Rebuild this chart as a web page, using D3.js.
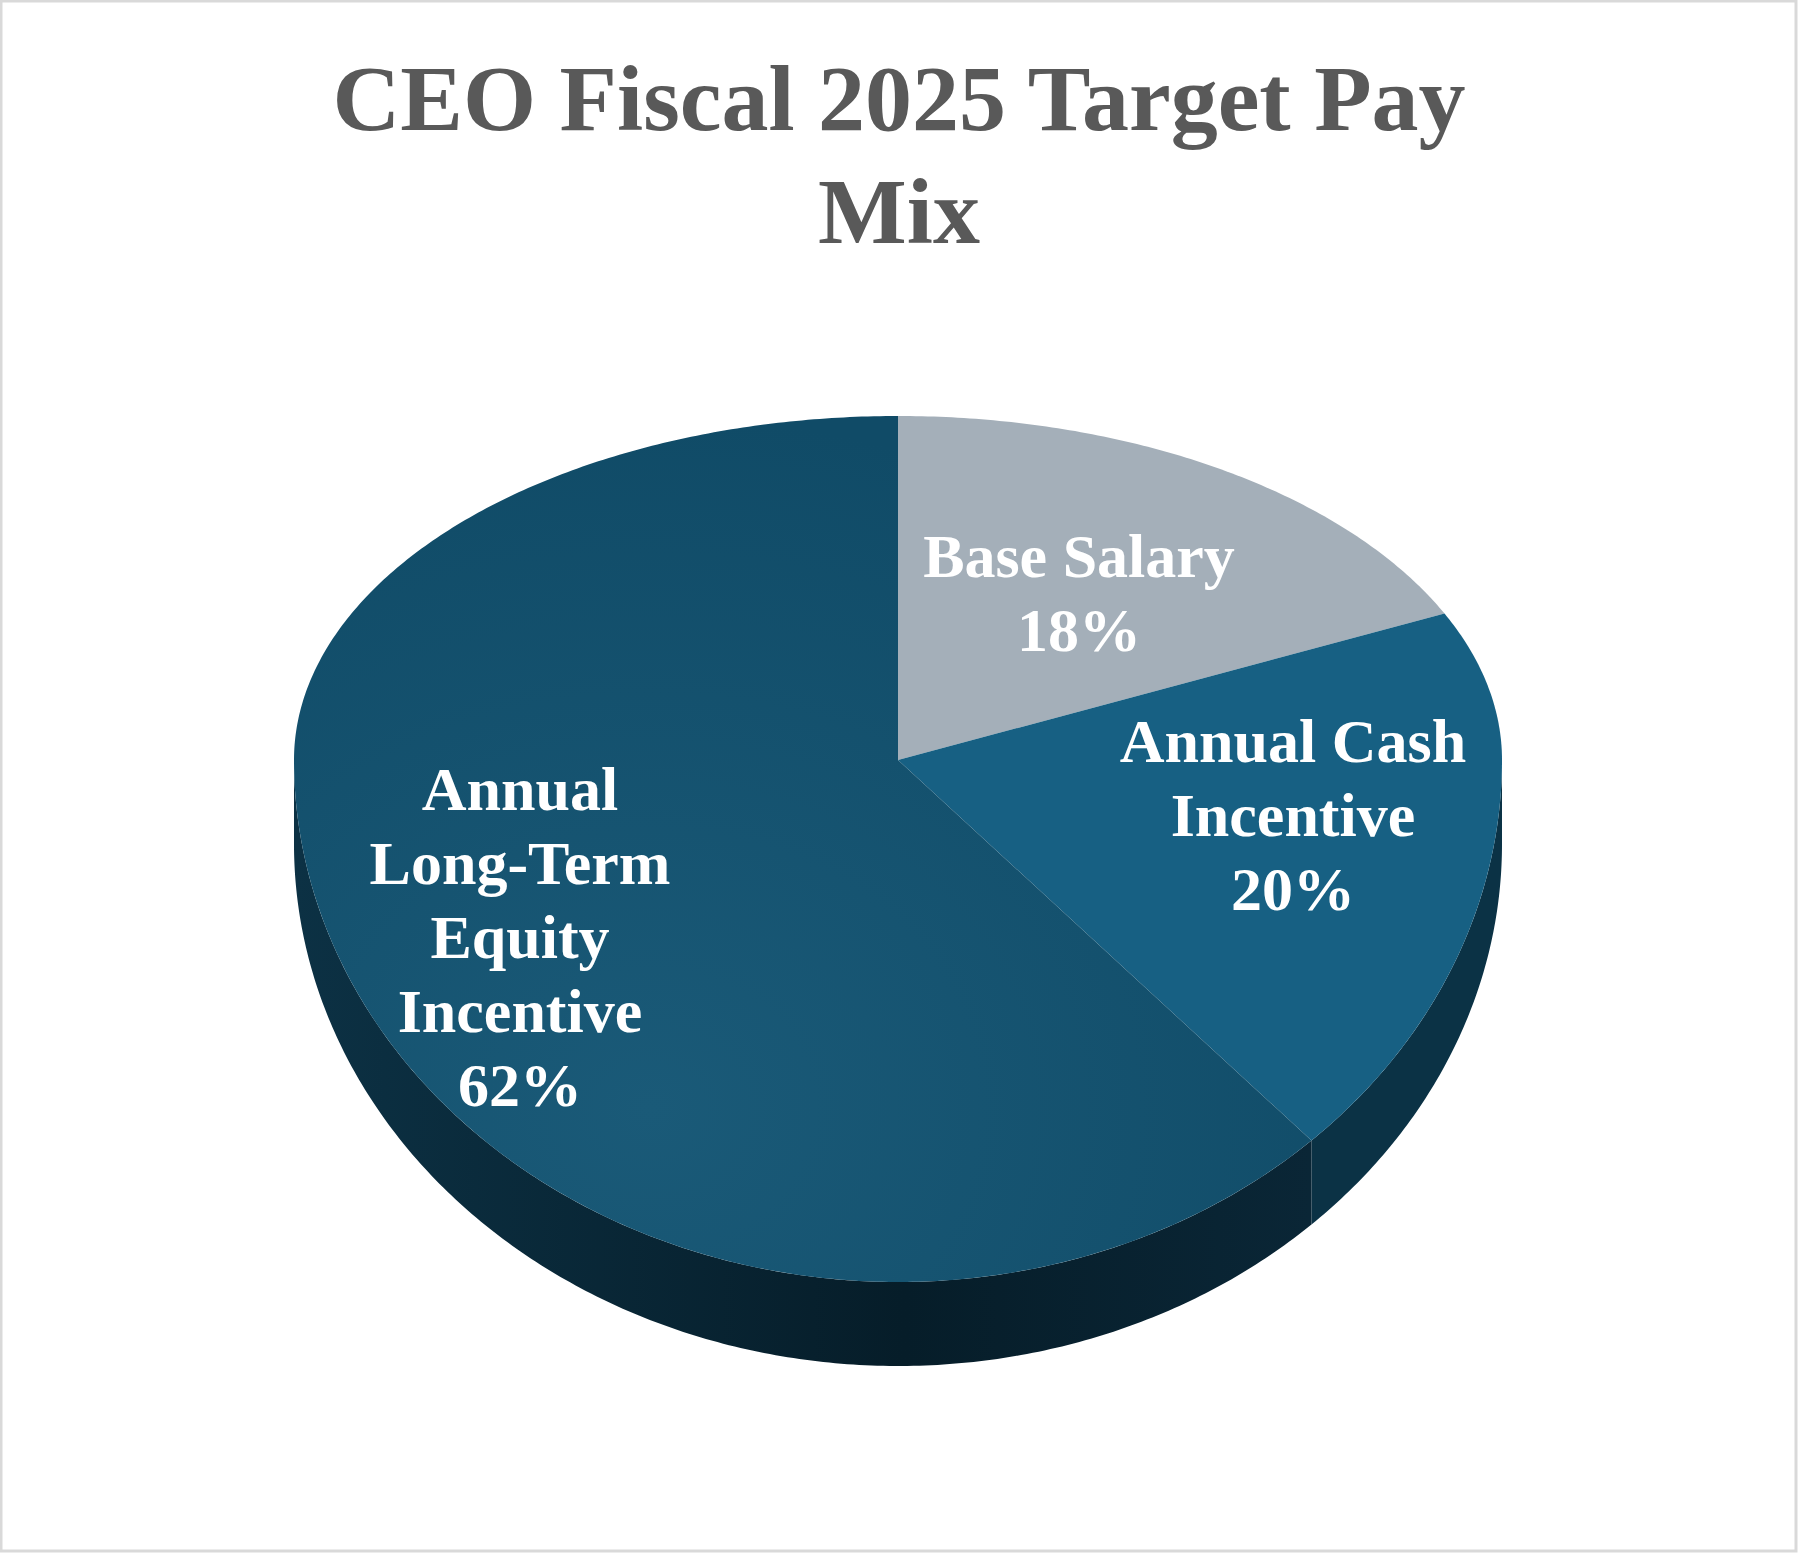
<!DOCTYPE html>
<html><head><meta charset="utf-8">
<script src="https://cdn.jsdelivr.net/npm/d3@7"></script>
<style>body{margin:0;background:#fff}</style>
</head><body>
<svg width="1799" height="1554"></svg>
<script>
var categories = ["Base Salary", "Annual Cash Incentive", "Annual Long-Term Equity Incentive"];
var values = [18, 20, 62];
var labelLines = [["Base Salary", "18%"], ["Annual Cash", "Incentive", "20%"], ["Annual", "Long-Term", "Equity", "Incentive", "62%"]];
var colors = ["#a4afb9", "#176083", "#135070"];
var sideColors = ["#4b5560", "#0b3245", "#0a2a3a"];

var svg = d3.select("svg");
svg.append("rect").attr("x", 1).attr("y", 1).attr("width", 1795).attr("height", 1550)
    .attr("fill", "#fff").attr("stroke", "#d9d9d9").attr("stroke-width", 3);

svg.append("text").attr("x", 899).attr("text-anchor", "middle")
    .attr("font-family", "Liberation Serif, serif").attr("font-weight", "bold")
    .attr("font-size", 94).attr("fill", "#595959")
    .selectAll("tspan").data(["CEO Fiscal 2025 Target Pay", "Mix"]).join("tspan")
    .attr("x", 899).attr("y", (d, i) => 130 + i * 113).text(d => d);

var cx = 898, cy = 760, rx = 604, ryTop = 344, ryBot = 522, depth = 84;
function pt(a, dz) {
    var c = Math.cos(a);
    return [cx + rx * Math.sin(a), cy - (c > 0 ? ryTop : ryBot) * c + (dz || 0)];
}
function arcPts(a0, a1, dz) {
    var n = Math.max(2, Math.ceil((a1 - a0) / 0.01)), p = [];
    for (var i = 0; i <= n; i++) p.push(pt(a0 + (a1 - a0) * i / n, dz));
    return p;
}
var arcs = d3.pie().sort(null)(values);
var line = d3.line();

var defs = svg.append("defs");
var g1 = defs.append("linearGradient").attr("id", "side").attr("x1", 0).attr("x2", 1);
g1.append("stop").attr("offset", 0).attr("stop-color", "#0c3144");
g1.append("stop").attr("offset", 0.6).attr("stop-color", "#061d29");
g1.append("stop").attr("offset", 1).attr("stop-color", "#0a2636");
var g2 = defs.append("radialGradient").attr("id", "lti").attr("cx", 0.35).attr("cy", 0.8).attr("r", 0.8);
g2.append("stop").attr("offset", 0).attr("stop-color", "#1a5a78");
g2.append("stop").attr("offset", 1).attr("stop-color", "#104b67");

// sides (visible between 90° and 270°)
arcs.forEach(function(d, i) {
    var a0 = Math.max(d.startAngle, Math.PI / 2), a1 = Math.min(d.endAngle, 3 * Math.PI / 2);
    if (a1 <= a0) return;
    var top = arcPts(a0, a1, 0), bot = arcPts(a0, a1, depth).reverse();
    svg.append("path").attr("d", line(top.concat(bot)) + "Z")
        .attr("fill", i == 2 ? "url(#side)" : sideColors[i]);
});

// top faces
arcs.forEach(function(d, i) {
    var p = [[cx, cy]].concat(arcPts(d.startAngle, d.endAngle, 0));
    svg.append("path").attr("d", line(p) + "Z").attr("fill", i == 2 ? "url(#lti)" : colors[i]);
});

var labelPos = [[1079, 577], [1293, 762], [520, 810]];
labelLines.forEach(function(lines, i) {
    svg.append("text").attr("text-anchor", "middle")
        .attr("font-family", "Liberation Serif, serif").attr("font-weight", "bold")
        .attr("font-size", 62).attr("fill", "#fff")
        .selectAll("tspan").data(lines).join("tspan")
        .attr("x", labelPos[i][0]).attr("y", (d, j) => labelPos[i][1] + j * 74).text(d => d);
});
</script>
</body></html>
